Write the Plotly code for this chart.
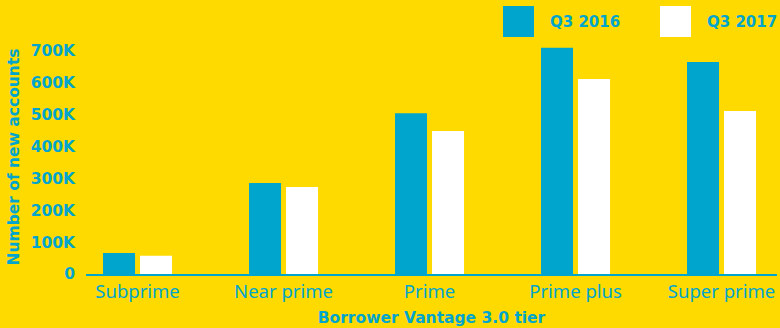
import plotly.graph_objects as go

categories = ["Subprime", "Near prime", "Prime", "Prime plus", "Super prime"]
series_names = ["Q3 2016", "Q3 2017"]
q3_2016 = [66000, 286000, 505000, 710000, 666000]
q3_2017 = [57000, 273000, 449000, 612000, 512000]
tick_vals = [0, 100000, 200000, 300000, 400000, 500000, 600000, 700000]
tick_text = ["0", "100K", "200K", "300K", "400K", "500K", "600K", "700K"]

TEAL = "#00A5CD"
BG = "#FFDA00"
WHITE = "#FFFFFF"
colors = [TEAL, WHITE]
BOLD = "DejaVu Sans"

fig = go.Figure()
for name, vals, c in zip(series_names, [q3_2016, q3_2017], colors):
    fig.add_trace(go.Bar(x=categories, y=vals, name=name, marker=dict(color=c, line=dict(width=0)),
                         showlegend=False, hoverinfo="skip"))

W, H = 780, 328
ml, mr, mt, mb = 86, 3, 40, 54
fig.update_layout(
    width=W, height=H,
    margin=dict(l=ml, r=mr, t=mt, b=mb),
    paper_bgcolor=BG, plot_bgcolor=BG,
    barmode="group", bargap=0.493, bargroupgap=0.135,
    font=dict(family=BOLD, color=TEAL),
    xaxis=dict(range=[-0.353, 4.38], showline=True, linecolor=TEAL, linewidth=1.5,
               showgrid=False, ticks="", tickfont=dict(size=18.5, family="Noto Sans", color=TEAL),
               title=dict(text="<b>Borrower Vantage 3.0 tier</b>", font=dict(size=15.5, family=BOLD, color=TEAL),
                          standoff=10)),
    yaxis=dict(range=[0, 734700], showgrid=False, zeroline=False, showline=False,
               tickvals=tick_vals, ticktext=[f"<b>{t}</b>" for t in tick_text], ticks="",
               tickfont=dict(size=15.5, family=BOLD, color=TEAL), ticklabelstandoff=10,
               title=dict(text="<b>Number of new accounts</b>", font=dict(size=15.5, family=BOLD, color=TEAL),
                          standoff=7)),
)

# custom legend with large square swatches
leg_x = [503, 660]
for i, (name, c) in enumerate(zip(series_names, colors)):
    x0 = leg_x[i]
    fig.add_shape(type="rect", xref="paper", yref="paper",
                  x0=(x0 - ml) / (W - ml - mr), x1=(x0 + 31 - ml) / (W - ml - mr),
                  y0=(H - mb - 37) / (H - mt - mb), y1=(H - mb - 6) / (H - mt - mb),
                  fillcolor=c, line=dict(width=0), layer="above")
    fig.add_annotation(xref="paper", yref="paper", x=(x0 + 45 - ml) / (W - ml - mr),
                       y=(H - mb - 21.5) / (H - mt - mb), xanchor="left", yanchor="middle",
                       text=f"<b>{name}</b>", showarrow=False,
                       font=dict(size=15, family=BOLD, color=TEAL))

fig.write_html("out.html", config={"displayModeBar": False},
               post_script="document.body.style.margin='0';")
